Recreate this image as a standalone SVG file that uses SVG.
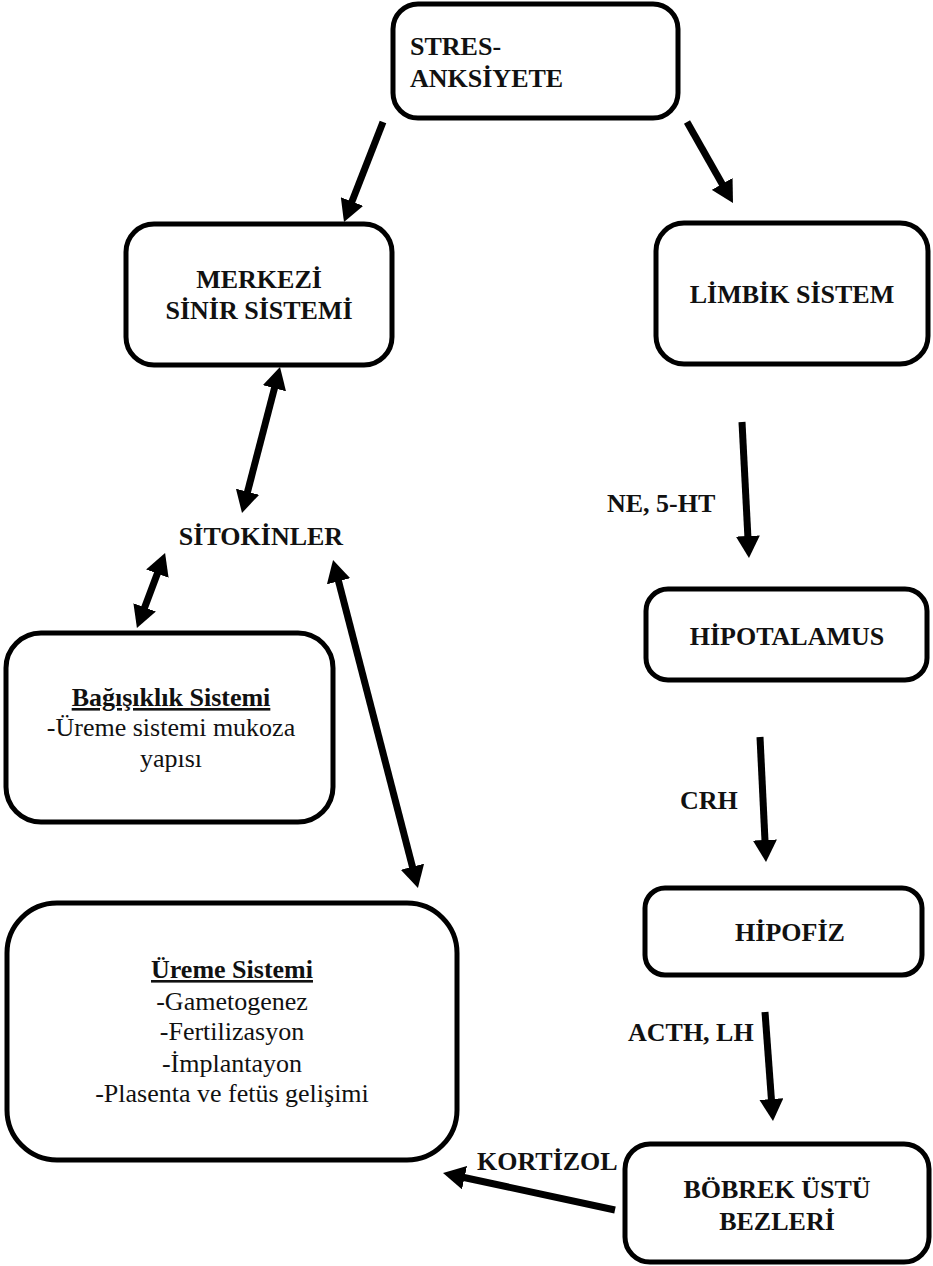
<svg xmlns="http://www.w3.org/2000/svg" width="933" height="1266" viewBox="0 0 933 1266">
  <style>
    .box { fill: #ffffff; stroke: #000000; stroke-width: 5; }
    .lbl { font-family: "Liberation Serif", "Times New Roman", serif; font-size: 26px; font-weight: bold; fill: #111111; }
    .txt { font-family: "Liberation Serif", "Times New Roman", serif; font-size: 26px; fill: #111111; }
    .mid { text-anchor: middle; }
    .ul { text-decoration: underline; }
    .arrow { stroke: #000000; stroke-width: 7; fill: none; marker-end: url(#head); }
    .both { marker-start: url(#head); }
  </style>
  <defs>
    <marker id="head" markerUnits="userSpaceOnUse" markerWidth="22" markerHeight="24" refX="3" refY="12" orient="auto-start-reverse" viewBox="0 0 22 24">
      <path d="M0,0 L22,12 L0,24 z" fill="#000000"/>
    </marker>
  </defs>
  <rect width="933" height="1266" fill="#ffffff"/>

  <g id="connectors">
    <line class="arrow" x1="383" y1="122" x2="350.9" y2="204.3"/>
    <line class="arrow" x1="687" y1="122" x2="723.6" y2="186.5"/>
    <line class="arrow" x1="742" y1="422" x2="748" y2="539"/>
    <line class="arrow" x1="760" y1="737" x2="765.1" y2="843"/>
    <line class="arrow" x1="765" y1="1012" x2="771.6" y2="1102"/>
    <line class="arrow" x1="615" y1="1210" x2="461.6" y2="1177"/>
    <line class="arrow both" x1="275.2" y1="385.4" x2="246.8" y2="494.6"/>
    <line class="arrow both" x1="158.4" y1="570.8" x2="143.6" y2="610.2"/>
    <line class="arrow both" x1="337.8" y1="578.4" x2="413.2" y2="869.6"/>
    <text class="lbl" x="607" y="512">NE, 5-HT</text>
    <text class="lbl" x="680" y="809">CRH</text>
    <text class="lbl" x="628" y="1041">ACTH, LH</text>
    <text class="lbl" x="477" y="1170">KORTİZOL</text>
  </g>

  <g id="stres">
    <rect class="box" x="393" y="4" width="285" height="114" rx="25"/>
    <text class="lbl" x="410" y="55">STRES-</text>
    <text class="lbl" x="410" y="87">ANKSİYETE</text>
  </g>

  <g id="merkezi-sinir-sistemi">
    <rect class="box" x="126" y="224" width="266" height="141" rx="28"/>
    <text class="lbl mid" x="259" y="288">MERKEZİ</text>
    <text class="lbl mid" x="259" y="319">SİNİR SİSTEMİ</text>
  </g>

  <g id="limbik-sistem">
    <rect class="box" x="656" y="223" width="272" height="141" rx="28"/>
    <text class="lbl mid" x="792" y="303">LİMBİK SİSTEM</text>
  </g>

  <g id="sitokinler">
    <text class="lbl mid" x="261" y="545">SİTOKİNLER</text>
  </g>

  <g id="hipotalamus">
    <rect class="box" x="646" y="589" width="281" height="91" rx="22"/>
    <text class="lbl mid" x="787" y="645">HİPOTALAMUS</text>
  </g>

  <g id="bagisiklik-sistemi">
    <rect class="box" x="6" y="633" width="327" height="189" rx="35"/>
    <text class="lbl mid ul" x="171" y="706">Bağışıklık Sistemi</text>
    <text class="txt mid" x="171" y="736">-Üreme sistemi mukoza</text>
    <text class="txt mid" x="171" y="767">yapısı</text>
  </g>

  <g id="hipofiz">
    <rect class="box" x="645" y="888" width="277" height="87" rx="20"/>
    <text class="lbl mid" x="790" y="941">HİPOFİZ</text>
  </g>

  <g id="ureme-sistemi">
    <rect class="box" x="7" y="903" width="450" height="257" rx="50"/>
    <text class="lbl mid ul" x="232" y="978">Üreme Sistemi</text>
    <text class="txt mid" x="232" y="1010">-Gametogenez</text>
    <text class="txt mid" x="232" y="1040">-Fertilizasyon</text>
    <text class="txt mid" x="232" y="1072">-İmplantayon</text>
    <text class="txt mid" x="232" y="1102">-Plasenta ve fetüs gelişimi</text>
  </g>

  <g id="bobrek-ustu-bezleri">
    <rect class="box" x="625" y="1144" width="304" height="118" rx="25"/>
    <text class="lbl mid" x="777" y="1198">BÖBREK ÜSTÜ</text>
    <text class="lbl mid" x="777" y="1230">BEZLERİ</text>
  </g>
</svg>
